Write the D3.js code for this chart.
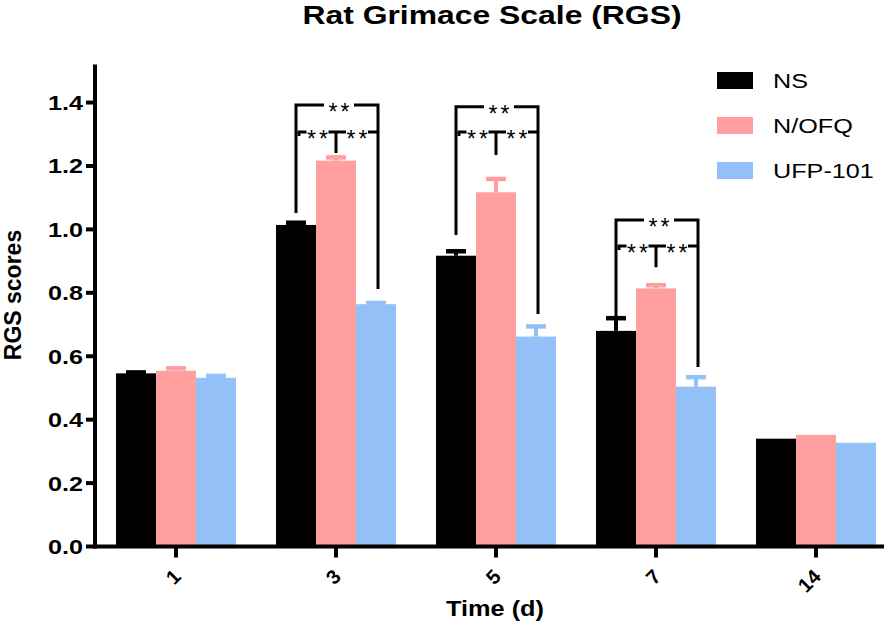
<!DOCTYPE html>
<html>
<head>
<meta charset="utf-8">
<script src="https://cdn.jsdelivr.net/npm/d3@7"></script>
<style>
  html, body { margin: 0; padding: 0; background: #fff; }
  svg { display: block; font-family: "Liberation Sans", Arial, sans-serif; }
</style>
</head>
<body>
<svg id="chart" width="896" height="630"></svg>
<script>
// ---- data ----
const categories = ["1", "3", "5", "7", "14"];
const seriesNames = ["NS", "N/OFQ", "UFP-101"];
const nsValues   = [0.546, 1.014, 0.917, 0.680, 0.340];
const nofqValues = [0.554, 1.217, 1.117, 0.814, 0.352];
const ufpValues  = [0.532, 0.764, 0.662, 0.504, 0.327];
const nsErr   = [0.003, 0.007, 0.014, 0.040, 0];
const nofqErr = [0.008, 0.010, 0.042, 0.010, 0];
const ufpErr  = [0.006, 0.004, 0.032, 0.030, 0];
const yTicks = [0, 0.2, 0.4, 0.6, 0.8, 1.0, 1.2, 1.4];
// significance brackets (values in RGS units)
const sigCategories = ["3", "5", "7"];
const sigTopLevel   = [1.392, 1.387, 1.030];
const sigLowLevel   = [1.307, 1.307, 0.948];
const sigLeftEnd    = [1.052, 0.982, 0.720];
const sigRightEnd   = [0.812, 0.733, 0.566];
const sigCenterEnd  = [1.241, 1.235, 0.881];
const sigLabel = "**";

const colors = ["#000000", "#ff9f9f", "#93c0f7"];
const seriesValues = [nsValues, nofqValues, ufpValues];
const seriesErr = [nsErr, nofqErr, ufpErr];

// ---- scales ----
const svg = d3.select("#chart");
const x = d3.scaleBand().domain(categories).range([96, 896]).paddingInner(0.25).paddingOuter(0.125);
const xs = d3.scaleBand().domain(seriesNames).range([0, x.bandwidth()]);
const y = d3.scaleLinear().domain([0, 1.52]).range([546.5, 64.5]);

// horizontally widened text helper
function wtext(parent, px, py, str, size, weight, anchor, sx) {
  return parent.append("text")
    .attr("transform", `translate(${px},${py}) scale(${sx},1)`)
    .attr("text-anchor", anchor).attr("font-size", size).attr("font-weight", weight)
    .text(str);
}

// ---- bars ----
seriesNames.forEach((s, si) => {
  const g = svg.append("g");
  g.selectAll("rect").data(categories).join("rect")
    .attr("x", c => x(c) + xs(s))
    .attr("y", (c, i) => y(seriesValues[si][i]))
    .attr("width", xs.bandwidth())
    .attr("height", (c, i) => y(0) - y(seriesValues[si][i]))
    .attr("fill", colors[si]);
  categories.forEach((c, i) => {
    const e = seriesErr[si][i];
    if (e <= 0) return;
    const cx = x(c) + xs(s) + xs.bandwidth() / 2;
    const top = y(seriesValues[si][i] + e);
    g.append("line").attr("x1", cx).attr("x2", cx)
      .attr("y1", y(seriesValues[si][i])).attr("y2", top)
      .attr("stroke", colors[si]).attr("stroke-width", 4);
    g.append("line").attr("x1", cx - 10).attr("x2", cx + 10)
      .attr("y1", top).attr("y2", top)
      .attr("stroke", colors[si]).attr("stroke-width", 4.5);
  });
});

// ---- significance brackets ----
const sg = svg.append("g").attr("stroke", "#000").attr("stroke-width", 3).attr("fill", "none");
const tg = svg.append("g");
function starText(cx, ly) {
  tg.append("text").attr("x", cx).attr("y", ly + 15)
    .attr("text-anchor", "middle").attr("font-size", 23)
    .attr("letter-spacing", 3).attr("dx", 1.5)
    .text(sigLabel);
}
sigCategories.forEach((c, i) => {
  const xl = x(c) + xs("NS") + xs.bandwidth() / 2;
  const xm = x(c) + xs("N/OFQ") + xs.bandwidth() / 2;
  const xr = x(c) + xs("UFP-101") + xs.bandwidth() / 2 + 2;
  const yt = y(sigTopLevel[i]);
  const yl = y(sigLowLevel[i]);
  const gap = 15;
  const mid = (xl + xr) / 2 + 2;
  sg.append("path").attr("d",
    `M${xl},${y(sigLeftEnd[i])}V${yt}H${mid - gap}M${mid + gap},${yt}H${xr}V${y(sigRightEnd[i])}`);
  starText(mid, yt);
  const l1 = xl + 3;
  const m1 = (l1 + xm) / 2;
  const m2 = (xm + xr) / 2;
  sg.append("path").attr("d",
    `M${l1},${yl + 4}V${yl}H${m1 - 11}` +
    `M${m1 + 11},${yl}H${m2 - 11}` +
    `M${xm},${yl}V${y(sigCenterEnd[i])}` +
    `M${m2 + 11},${yl}H${xr}`);
  starText(m1, yl);
  starText(m2, yl);
});

// ---- axes ----
const ax = svg.append("g").attr("stroke", "#000").attr("stroke-width", 4);
ax.append("line").attr("x1", 95).attr("x2", 95).attr("y1", y(1.52)).attr("y2", y(0) + 2);
ax.append("line").attr("x1", 93).attr("x2", 884).attr("y1", y(0)).attr("y2", y(0));
ax.selectAll(".yt").data(yTicks).join("line")
  .attr("x1", 86).attr("x2", 95).attr("y1", d => y(d)).attr("y2", d => y(d));
ax.selectAll(".xt").data(categories).join("line")
  .attr("x1", c => x(c) + x.bandwidth() / 2).attr("x2", c => x(c) + x.bandwidth() / 2)
  .attr("y1", y(0)).attr("y2", y(0) + 11);

const ytg = svg.append("g");
yTicks.forEach(d => {
  wtext(ytg, 83, y(d) + 7.5, d3.format(".1f")(d), 21, "bold", "end", 1.2);
});

svg.append("g").selectAll("text").data(categories).join("text")
  .attr("transform", c => `translate(${x(c) + x.bandwidth() / 2 + 6},${578}) rotate(-45)`)
  .attr("text-anchor", "end").attr("font-size", 20).attr("font-weight", "bold")
  .text(c => c);

// ---- titles ----
wtext(svg, 492, 23.5, "Rat Grimace Scale (RGS)", 25.5, "bold", "middle", 1.25);
svg.append("text").attr("transform", "translate(21,295) rotate(-90)")
  .attr("text-anchor", "middle").attr("font-size", 23).attr("font-weight", "bold")
  .text("RGS scores");
wtext(svg, 495, 616, "Time (d)", 22, "bold", "middle", 1.15);

// ---- legend ----
const lg = svg.append("g");
seriesNames.forEach((s, i) => {
  const yy = 80.5 + i * 45;
  lg.append("rect").attr("x", 717).attr("y", yy - 8.5).attr("width", 36).attr("height", 17)
    .attr("fill", colors[i]);
  wtext(lg, 773, yy + 7.5, s, 21, "normal", "start", 1.2);
});
</script>
</body>
</html>
